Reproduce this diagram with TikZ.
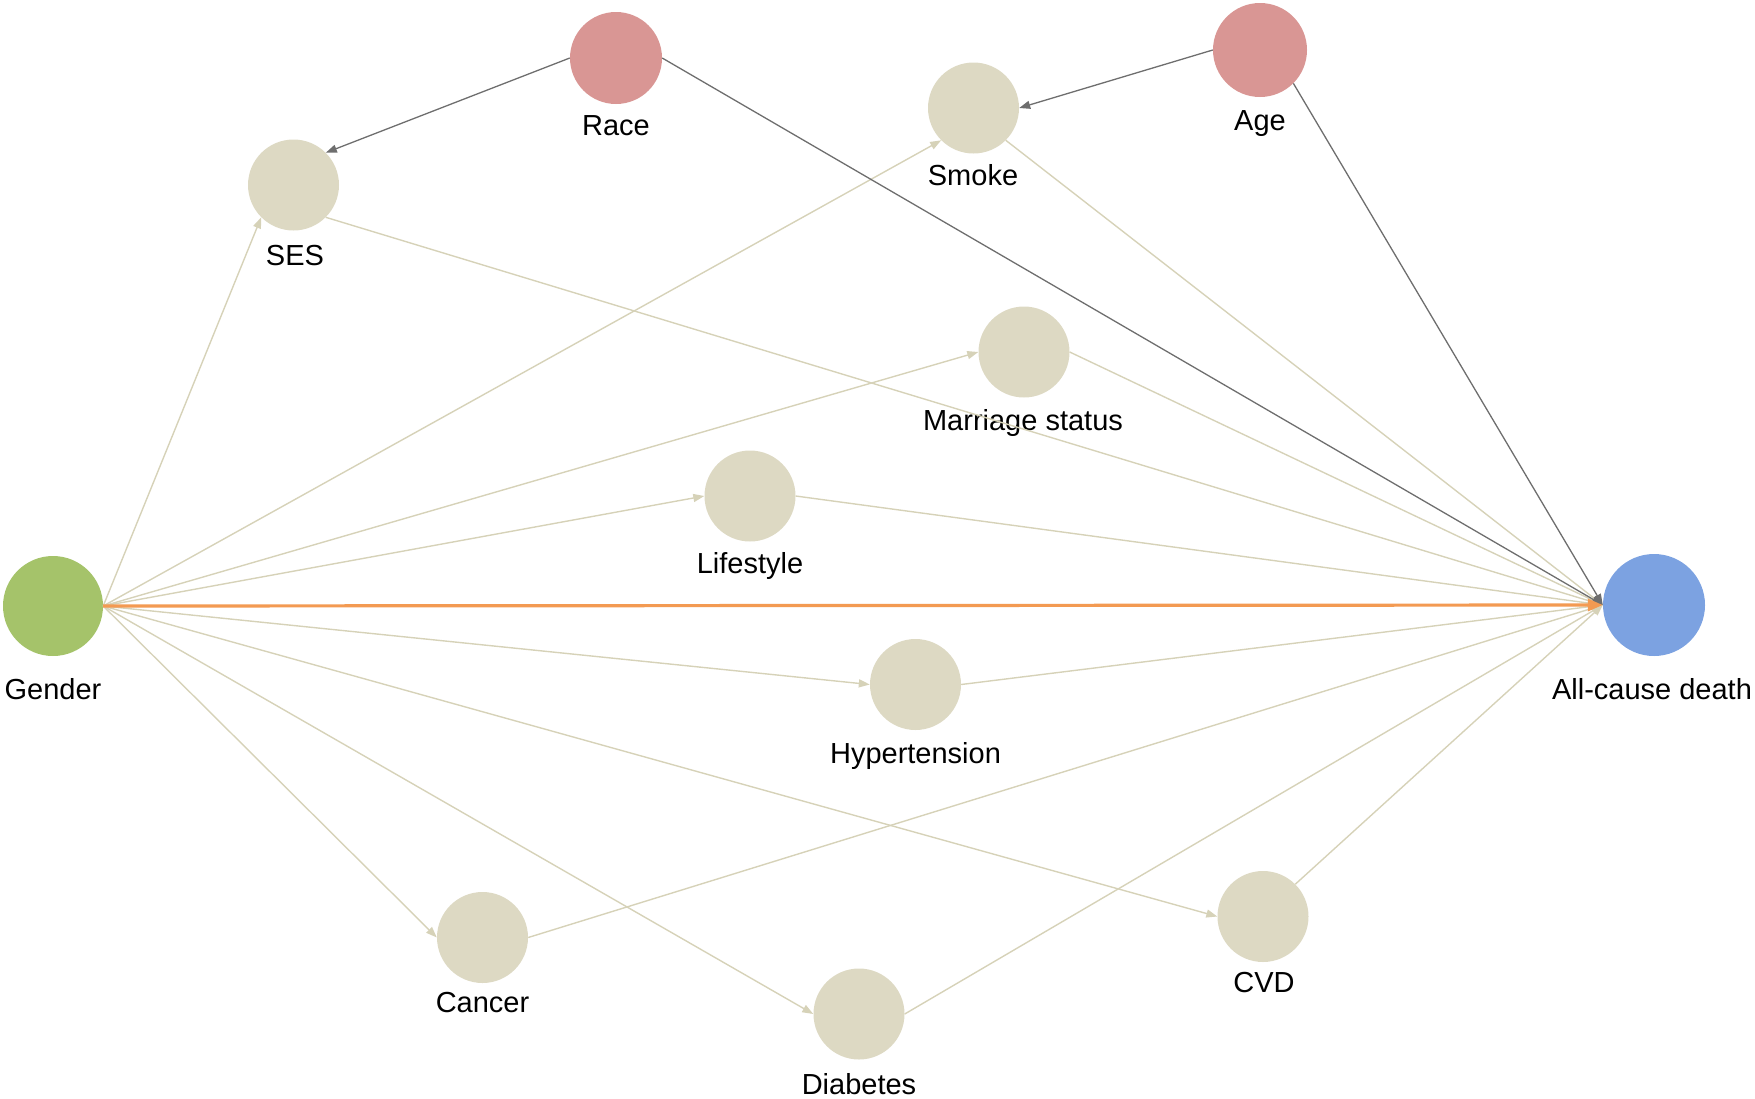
\documentclass[tikz,border=0pt]{standalone}
\usepackage{fontspec}
\setmainfont{Liberation Sans}
\usetikzlibrary{arrows.meta}
\definecolor{beige}{HTML}{DDD9C3}
\definecolor{rosy}{HTML}{D99694}
\definecolor{olive}{HTML}{A5C36A}
\definecolor{skyb}{HTML}{7CA2E1}
\definecolor{bline}{HTML}{D6D2B8}
\definecolor{dline}{HTML}{6E6E6E}
\definecolor{oline}{HTML}{F39A52}
\begin{document}
\begin{tikzpicture}[x=1pt,y=-1pt,
  var/.style={circle,fill=beige,minimum size=91pt,inner sep=0pt},
  lab/.style={anchor=base,font=\fontsize{29}{34}\selectfont,inner sep=0pt},
  bl/.style={draw=bline,line width=1.4pt,-{Triangle[length=11pt,width=8pt]}},
  dl/.style={draw=dline,line width=1.3pt,-{Triangle[length=11pt,width=8pt]}},
  ol/.style={draw=oline,line width=3.2pt,-{Triangle[length=15pt,width=12pt]}}
]
\useasboundingbox (0,0) rectangle (1755,1098);

% nodes
\node[var,fill=olive,minimum size=100pt] (gender) at (53,606) {};
\node[var,fill=skyb,minimum size=102pt] (all) at (1654,605) {};
\node[var,fill=rosy,minimum size=92pt] (race) at (616,58) {};
\node[var,fill=rosy,minimum size=94pt] (age) at (1260,50) {};
\node[var] (ses) at (293.5,185) {};
\node[var] (smoke) at (973.5,108) {};
\node[var] (marriage) at (1024,352) {};
\node[var] (lifestyle) at (750,496) {};
\node[var] (hyp) at (915.5,684.5) {};
\node[var] (cancer) at (482.5,937.5) {};
\node[var] (diabetes) at (859,1014) {};
\node[var] (cvd) at (1263,916.5) {};

% labels
\node[lab] (gender-l) at (53,699) {Gender};
\node[lab] (all-l) at (1652,699) {All-cause death};
\node[lab] (race-l) at (616,135) {Race};
\node[lab] (age-l) at (1260,130) {Age};
\node[lab] (ses-l) at (295,265) {SES};
\node[lab] (smoke-l) at (973,185) {Smoke};
\node[lab] (marriage-l) at (1023,430) {Marriage status};
\node[lab] (lifestyle-l) at (750,573) {Lifestyle};
\node[lab] (hyp-l) at (915.5,763) {Hypertension};
\node[lab] (cancer-l) at (482.5,1012) {Cancer};
\node[lab] (diabetes-l) at (859,1094) {Diabetes};
\node[lab] (cvd-l) at (1264,992) {CVD};

% beige edges from Gender
\draw[bl] (gender.east) -- (ses.south west);
\draw[bl] (gender.east) -- (smoke.south west);
\draw[bl] (gender.east) -- (marriage.west);
\draw[bl] (gender.east) -- (lifestyle.west);
\draw[bl] (gender.east) -- (hyp.west);
\draw[bl] (gender.east) -- (cancer.west);
\draw[bl] (gender.east) -- (diabetes.west);
\draw[bl] (gender.east) -- (cvd.west);
% beige edges to All-cause death
\draw[bl] (ses.south east) -- (all.west);
\draw[bl] (smoke.south east) -- (all.west);
\draw[bl] (marriage.east) -- (all.west);
\draw[bl] (lifestyle.east) -- (all.west);
\draw[bl] (hyp.east) -- (all.west);
\draw[bl] (cancer.east) -- (all.west);
\draw[bl] (diabetes.east) -- (all.west);
\draw[bl] (cvd.north east) -- (all.west);
% dark edges
\draw[dl] (race.west) -- (ses.north east);
\draw[dl] (race.east) -- (all.west);
\draw[dl] (age.west) -- (smoke.east);
\draw[dl] (age.south east) -- (all.west);
% main effect
\draw[ol] (gender.east) -- (all.west);
\end{tikzpicture}
\end{document}
